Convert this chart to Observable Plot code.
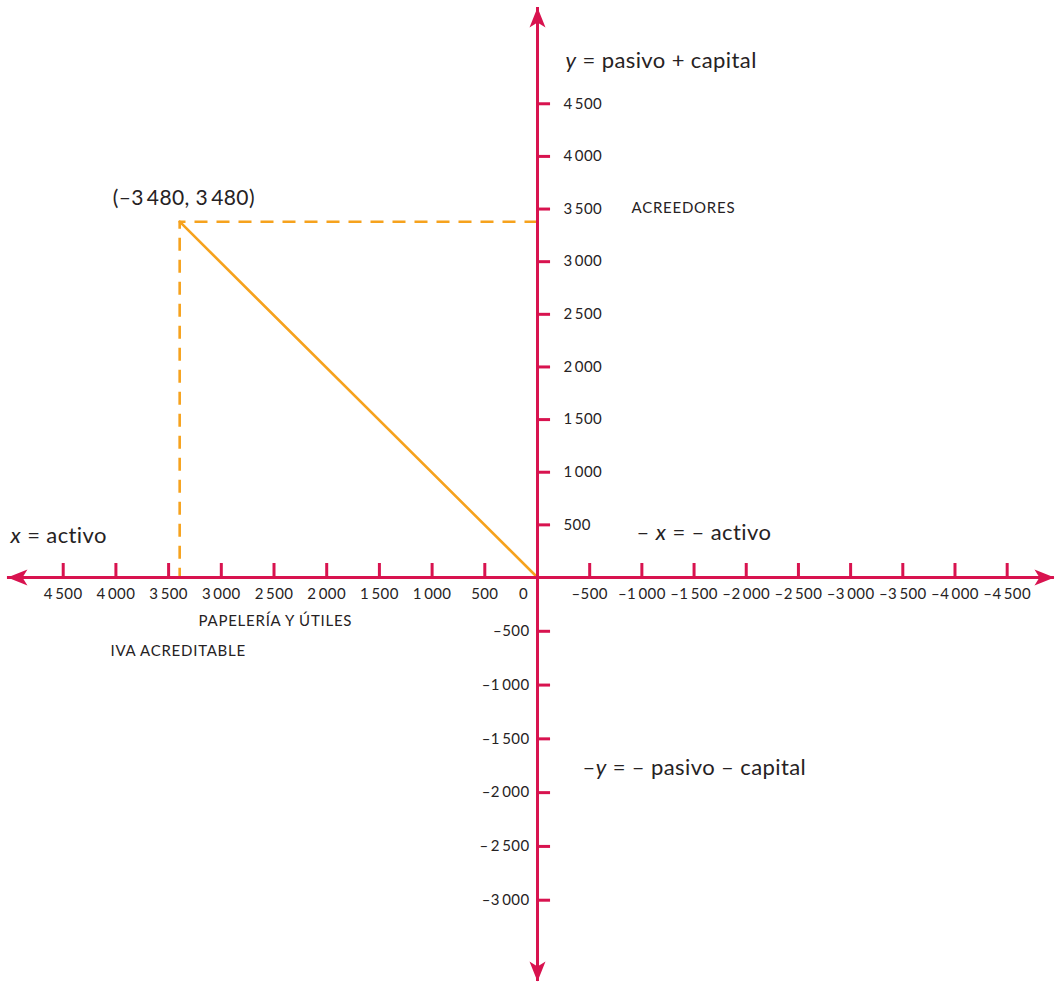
<!DOCTYPE html>
<html>
<head>
<meta charset="utf-8">
<script src="https://cdn.jsdelivr.net/npm/d3@7"></script>
<script src="https://cdn.jsdelivr.net/npm/@observablehq/plot@0.6"></script>
<style>
html, body { margin: 0; padding: 0; background: #ffffff; }
#chart svg { display: block; }
#chart svg text { letter-spacing: 0.4px; }
#chart svg .cat text, #chart svg text.cat { letter-spacing: 0.75px; }
</style>
</head>
<body>
<div id="chart"></div>
<script>
// ---- data ----
const xTicks = [4500, 4000, 3500, 3000, 2500, 2000, 1500, 1000, 500, -500, -1000, -1500, -2000, -2500, -3000, -3500, -4000, -4500];
const xTickLabels = ["4\u2009500", "4\u2009000", "3\u2009500", "3\u2009000", "2\u2009500", "2\u2009000", "1\u2009500", "1\u2009000", "500",
  "–500", "–1\u2009000", "–1\u2009500", "–2\u2009000", "–2\u2009500", "–3\u2009000", "–3\u2009500", "–4\u2009000", "–4\u2009500"];
const yTicks = [4500, 4000, 3500, 3000, 2500, 2000, 1500, 1000, 500, -500, -1000, -1500, -2000, -2500, -3000];
const yTickLabels = ["4\u2009500", "4\u2009000", "3\u2009500", "3\u2009000", "2\u2009500", "2\u2009000", "1\u2009500", "1\u2009000", "500",
  "–500", "–1\u2009000", "–1\u2009500", "–2\u2009000", "–\u20092\u2009500", "–3\u2009000"];
const originLabel = ["0"];

// point drawn in the figure (x axis grows to the left)
const pointX = [3395];
const pointY = [3380];
const pointLabel = ["(–3\u2009480, 3\u2009480)"];

// text annotations (data coordinates; *…* = italic)
const noteText = ["*y* = pasivo + capital", "*x* = activo", "– *x* = – activo", "–*y* = – pasivo – capital"];
const noteX = [-268, 5000, -949, -431];
const noteY = [4911, 399, 427, -1766];

const catText = ["ACREEDORES", "PAPELERÍA Y ÚTILES", "IVA ACREDITABLE"];
const catX = [-901, 3216, 4051];
const catY = [3505, -409, -688];

// ---- styles ----
const AXIS = "#d8134f";
const ORANGE = "#f6a21d";
const INK = "#262223";

const W = 1055, H = 982;
const xEnds = [5029, -4953];   // arrow tips on the x axis
const yEnds = [5415, -3756];   // arrow tips on the y axis

const arrowHead = {
  draw(ctx) {
    ctx.moveTo(0, 0);
    ctx.lineTo(8, 20);
    ctx.lineTo(0, 15);
    ctx.lineTo(-8, 20);
    ctx.closePath();
  }
};
const arrows = [
  {x: xEnds[0], y: 0, a: -90},
  {x: xEnds[1], y: 0, a: 90},
  {x: 0, y: yEnds[0], a: 0},
  {x: 0, y: yEnds[1], a: 180}
];

const xTickData = xTicks.map((v, i) => ({v, label: xTickLabels[i]}));
const yTickData = yTicks.map((v, i) => ({v, label: yTickLabels[i]}));
const notes = noteText.map((t, i) => ({t, x: noteX[i], y: noteY[i]}));
const cats = catText.map((t, i) => ({t, x: catX[i], y: catY[i]}));
const pts = pointX.map((x, i) => ({x, y: pointY[i], label: pointLabel[i]}));

const chart = Plot.plot({
  width: W,
  height: H,
  margin: 0,
  style: {fontFamily: "Lato, 'Open Sans', sans-serif", background: "#ffffff", overflow: "visible"},
  x: {type: "linear", domain: [5095, 0, -4963], range: [0, 537, W], axis: null},
  y: {type: "linear", domain: [5481, 0, -3765], range: [0, 577, H], axis: null},
  marks: [
    // projection lines
    Plot.line(pts.flatMap(p => [{x: 0, y: p.y}, {x: p.x, y: p.y}, {x: p.x, y: 0}]),
      {x: "x", y: "y", stroke: ORANGE, strokeWidth: 2.6, strokeDasharray: "13,9", strokeLinecap: "butt"}),
    Plot.line(pts.flatMap(p => [{x: p.x, y: p.y}, {x: 0, y: 0}]),
      {x: "x", y: "y", stroke: ORANGE, strokeWidth: 2.6}),
    // axes
    Plot.ruleY([0], {x1: xEnds[0], x2: xEnds[1], stroke: AXIS, strokeWidth: 3}),
    Plot.ruleX([0], {y1: yEnds[0], y2: yEnds[1], stroke: AXIS, strokeWidth: 3}),
    Plot.ruleX(xTickData, {x: "v", y1: 0, y2: 133, stroke: AXIS, strokeWidth: 3}),
    Plot.ruleY(yTickData, {y: "v", x1: 0, x2: -125, stroke: AXIS, strokeWidth: 3}),
    Plot.dot(arrows, {x: "x", y: "y", rotate: "a", symbol: arrowHead, fill: AXIS, stroke: "none", r: 5}),
    // tick labels
    Plot.text(xTickData, {x: "v", y: 0, text: "label", dy: 17, fontSize: 15, fill: INK}),
    Plot.text(originLabel, {x: 0, y: 0, text: d => d, dx: -14, dy: 17, fontSize: 15, fill: INK}),
    Plot.text(yTickData.filter(d => d.v > 0), {x: 0, y: "v", text: "label", dx: 26, textAnchor: "start", fontSize: 15, fill: INK}),
    Plot.text(yTickData.filter(d => d.v < 0), {x: 0, y: "v", text: "label", dx: -8, textAnchor: "end", fontSize: 15, fill: INK}),
    // annotations
    Plot.text(notes, {x: "x", y: "y", text: "t", textAnchor: "start", fontSize: 22, fill: INK}),
    Plot.text(cats, {x: "x", y: "y", text: "t", textAnchor: "start", fontSize: 15, fill: INK, className: "cat"}),
    Plot.text(pts, {x: "x", y: "y", text: "label", textAnchor: "start", dx: -67, dy: -23, fontSize: 21, fill: INK})
  ]
});

// italic markers -> tspans
chart.querySelectorAll("text").forEach(t => {
  const s = t.textContent;
  if (!s.includes("*")) return;
  t.textContent = "";
  s.split("*").forEach((part, i) => {
    if (!part) return;
    const ts = document.createElementNS("http://www.w3.org/2000/svg", "tspan");
    if (i % 2 === 1) ts.setAttribute("font-style", "italic");
    ts.textContent = part;
    t.appendChild(ts);
  });
});

document.getElementById("chart").appendChild(chart);
</script>
</body>
</html>
